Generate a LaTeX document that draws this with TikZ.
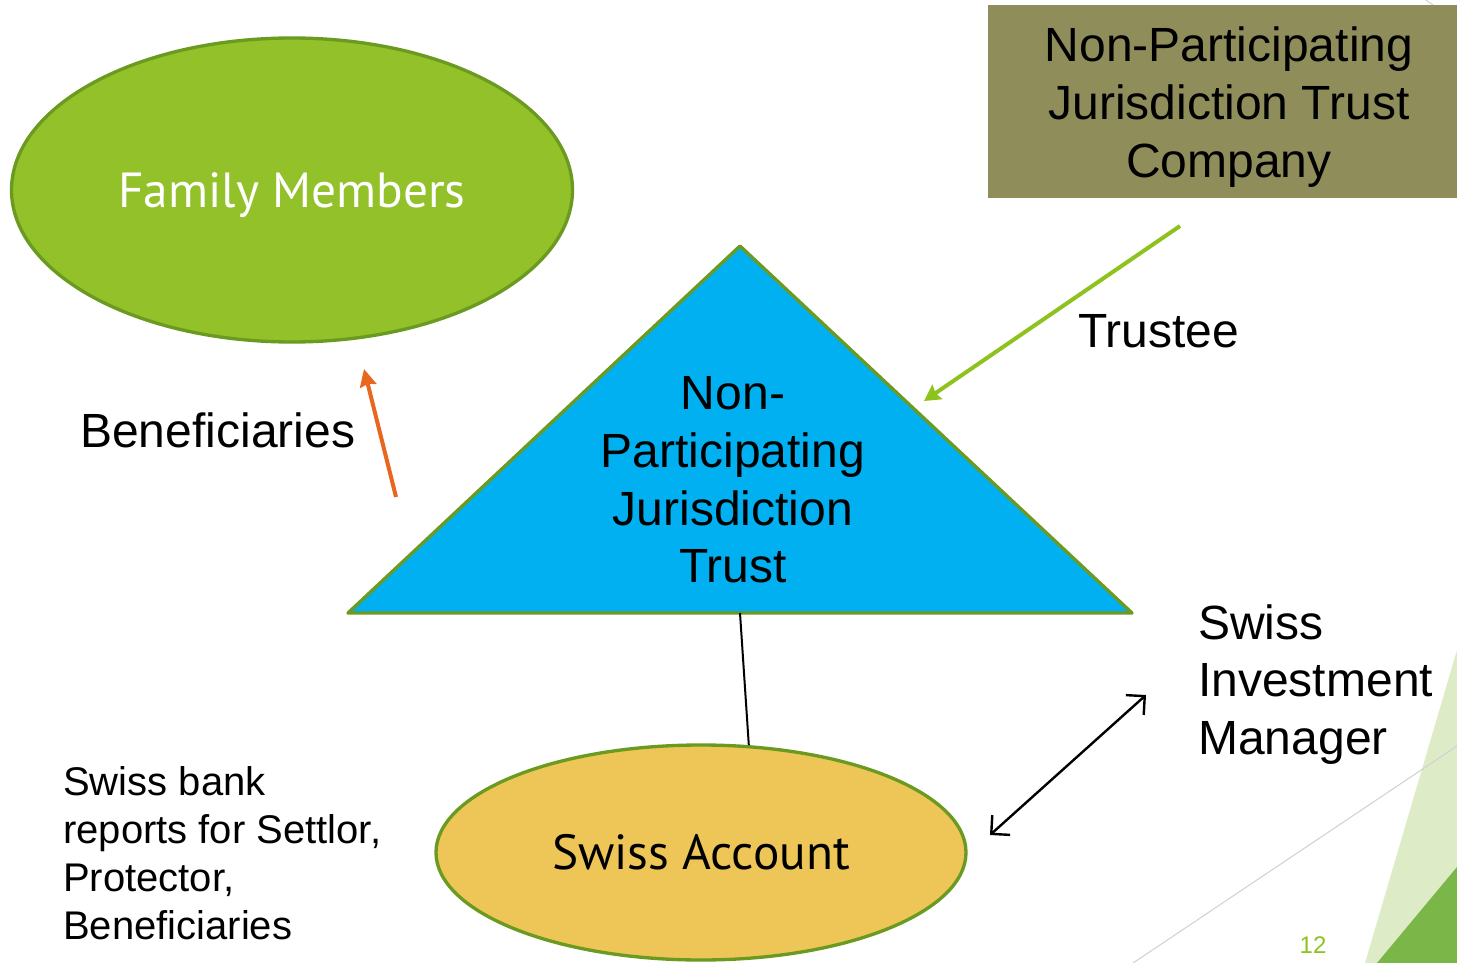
\documentclass[tikz,border=0pt]{standalone}
\usepackage{fontspec}
\setmainfont{Liberation Sans}
\newfontfamily\shapefont{PT Sans}
\usetikzlibrary{shapes.geometric,arrows.meta}

\definecolor{famgreen}{HTML}{92C12A}
\definecolor{rimgreen}{HTML}{6B9A20}
\definecolor{boxolive}{HTML}{8F8D5A}
\definecolor{trustblue}{HTML}{00B0F0}
\definecolor{acctyellow}{HTML}{EEC658}
\definecolor{orangearrow}{HTML}{E8671E}
\definecolor{arrowgreen}{HTML}{8DC21F}
\definecolor{lightdeco}{HTML}{DDEBC6}
\definecolor{darkdeco}{HTML}{7AB648}

\begin{document}
\begin{tikzpicture}[x=0.75pt, y=-0.75pt,
    bigtext/.style={font=\fontsize{36}{43.2}\selectfont, inner sep=0pt},
    smalltext/.style={font=\fontsize{30}{36}\selectfont, inner sep=0pt},
    blob/.style={ellipse, draw=rimgreen, line width=2.5pt, inner sep=0pt,
        font=\shapefont\fontsize{37}{44}\selectfont}]

    \useasboundingbox (0,0) rectangle (1457,963);

    % Slide decoration in the corners
    \draw[gray!35, line width=0.8pt] (1426,0) -- (1440,10);
    \fill[lightdeco] (1365,963) -- (1457,650) -- (1457,963) -- cycle;
    \draw[gray!35, line width=0.8pt] (1133,963) -- (1457,746);
    \fill[darkdeco] (1377,963) -- (1457,867) -- (1457,963) -- cycle;

    % Family members (beneficiaries)
    \node[blob, fill=famgreen, text=white, text depth=0pt, minimum width=420.75pt, minimum height=228pt] (family) at (292,190) {Family Members};

    % Trust company box (top right)
    \fill[boxolive] (988,5) rectangle (1457,198);
    \node[bigtext, align=center] (company) at (1229,107) {Non-Participating\\Jurisdiction Trust\\Company};

    % The trust itself
    \draw[rimgreen, line width=2.5pt, fill=trustblue, line join=round] (348,613) coordinate (tl) -- (740,246) coordinate (apex) -- (1132,613) coordinate (tr) -- cycle;
    \node[bigtext, align=center] (trust) at (733,480) {Non-\\Participating\\Jurisdiction\\Trust};

    % Swiss account
    \node[blob, fill=acctyellow, minimum width=397.5pt, minimum height=161.25pt] (account) at (701,852.5) {Swiss Account};

    % Link trust -> account
    \coordinate (base) at (740,613);
    \draw[line width=1.5pt] (base) -- (account.66);

    % Labels
    \node[bigtext, anchor=base west] (benef) at (80,447) {Beneficiaries};
    \node[bigtext, anchor=base west] (trustee) at (1078,347) {Trustee};
    \node[bigtext, anchor=north west, align=left] (manager) at (1198,604) {Swiss\\Investment\\Manager};
    \node[smalltext, anchor=north west, align=left] (bank) at (63,766) {Swiss bank\\reports for Settlor,\\Protector,\\Beneficiaries};
    \node[font=\fontsize{18}{21.6}\selectfont, text=arrowgreen, inner sep=0pt] (page) at (1313,945) {12};

    % Arrows
    \coordinate (b1) at (396,497);
    \coordinate (b2) at (364,369);
    \draw[-{Stealth[length=13pt,width=12.5pt,inset=1.5pt]}, orangearrow, line width=3pt] (b1) -- (b2);

    \coordinate (t1) at (1180,226);
    \coordinate (t2) at (924,401);
    \draw[-{Stealth[length=12pt,width=13pt,inset=1.5pt]}, arrowgreen, line width=3pt] (t1) -- (t2);

    \coordinate (m1) at (990,835);
    \coordinate (m2) at (1146,695);
    \draw[{Straight Barb[length=10pt,width=20pt]}-{Straight Barb[length=10pt,width=20pt]}, line width=1.8pt] (m1) -- (m2);

\end{tikzpicture}
\end{document}
